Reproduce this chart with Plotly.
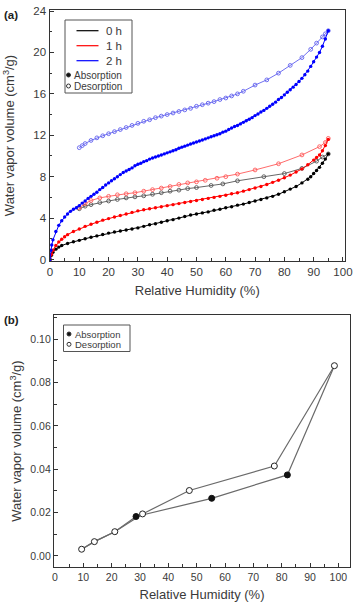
import plotly.graph_objects as go

# ---------------- Panel (a) data ----------------
abs0_x = [0, 0.5, 1, 2, 3, 4, 6, 8, 10, 12, 14, 16, 18, 20, 22, 24, 26, 28, 30, 32, 34, 36, 38, 40, 42, 44, 46, 48,
          50, 52, 54, 56, 58, 60, 62, 64, 66, 68, 70, 72, 74, 76, 78, 80, 82, 84, 86, 88, 89, 90, 91, 92, 93, 94, 95]
abs0_y = [0, 0.4, 0.7, 1.0, 1.2, 1.35, 1.55, 1.72, 1.85, 2.0, 2.15, 2.28, 2.42, 2.55, 2.65, 2.75, 2.85, 2.95, 3.05,
          3.2, 3.35, 3.45, 3.6, 3.75, 3.85, 4.0, 4.15, 4.3, 4.4, 4.5, 4.6, 4.75, 4.85, 5.0, 5.1, 5.25, 5.35, 5.5, 5.65,
          5.8, 5.95, 6.1, 6.3, 6.55, 6.8, 7.05, 7.4, 7.75, 8.0, 8.3, 8.6, 8.9, 9.3, 9.7, 10.2]

des0_x = [10, 12, 14, 17, 20, 23, 26, 29, 32, 35, 38, 41, 44, 47, 50, 55, 59, 64, 73, 80, 86, 91, 93, 95]
des0_y = [4.9, 5.15, 5.3, 5.5, 5.65, 5.8, 5.95, 6.05, 6.15, 6.3, 6.45, 6.6, 6.7, 6.85, 6.95, 7.15, 7.3, 7.6, 8.0,
          8.3, 8.8, 9.5, 9.9, 10.2]

abs1_x = [0, 0.5, 1, 2, 3, 4, 5, 6, 8, 10, 12, 14, 16, 18, 20, 22, 24, 26, 28, 30, 32, 34, 36, 38, 40, 42, 44, 46, 48,
          50, 52, 54, 56, 58, 60, 62, 64, 66, 68, 70, 72, 74, 76, 78, 80, 82, 84, 86, 88, 90, 91, 92, 93, 94, 95]
abs1_y = [0, 0.5, 0.9, 1.35, 1.7, 1.95, 2.2, 2.4, 2.7, 2.95, 3.2, 3.4, 3.6, 3.8, 3.95, 4.1, 4.25, 4.4, 4.55, 4.7,
          4.8, 4.9, 5.0, 5.1, 5.2, 5.3, 5.4, 5.5, 5.6, 5.7, 5.8, 5.9, 6.0, 6.1, 6.2, 6.35, 6.45, 6.6, 6.75, 6.9, 7.05,
          7.25, 7.45, 7.65, 7.9, 8.15, 8.45, 8.75, 9.15, 9.6, 9.85, 10.1, 10.5, 11.0, 11.6]

des1_x = [10, 12, 14, 17, 20, 23, 26, 29, 32, 35, 38, 41, 44, 47, 50, 53, 57, 60, 64, 70, 78, 86, 92, 94, 95]
des1_y = [5.0, 5.4, 5.7, 5.95, 6.1, 6.25, 6.35, 6.45, 6.6, 6.75, 6.9, 7.05, 7.25, 7.4, 7.5, 7.65, 7.85, 8.0, 8.25,
          8.65, 9.25, 10.1, 10.9, 11.3, 11.7]

abs2_x = [0, 0.3, 0.6, 1, 2, 3, 4, 5, 6, 7, 8, 9, 10, 11, 12, 13, 14, 15, 16, 17, 18, 19, 20, 21, 22, 23, 24, 25, 26,
          27, 28, 29, 30, 31, 32, 33, 34, 35, 36, 37, 38, 39, 40, 41, 42, 43, 44, 45, 46, 47, 48, 49, 50, 51, 52, 53,
          54, 55, 56, 57, 58, 59, 60, 61, 62, 63, 64, 65, 66, 67, 68, 69, 70, 71, 72, 73, 74, 75, 76, 77, 78, 79, 80,
          81, 82, 83, 84, 85, 86, 87, 88, 89, 90, 91, 92, 93, 94, 95]
abs2_y = [0, 0.9, 1.4, 1.9, 2.7, 3.3, 3.75, 4.1, 4.4, 4.65, 4.85, 5.0, 5.2, 5.45, 5.65, 5.9, 6.1, 6.3, 6.5, 6.75,
          6.95, 7.2, 7.4, 7.6, 7.8, 8.0, 8.2, 8.4, 8.55, 8.7, 8.85, 9.05, 9.2, 9.3, 9.45, 9.55, 9.7, 9.8, 9.9, 10.0,
          10.1, 10.2, 10.3, 10.4, 10.5, 10.6, 10.75, 10.85, 10.95, 11.05, 11.15, 11.25, 11.35, 11.45, 11.55, 11.65,
          11.75, 11.85, 11.95, 12.05, 12.15, 12.3, 12.4, 12.55, 12.7, 12.85, 12.95, 13.1, 13.25, 13.4, 13.55, 13.7,
          13.9, 14.05, 14.25, 14.4, 14.6, 14.8, 15.0, 15.2, 15.45, 15.65, 15.9, 16.15, 16.4, 16.65, 16.9, 17.2, 17.5,
          17.85, 18.2, 18.65, 19.1, 19.55, 20.0, 20.6, 21.3, 22.1]

des2_x = [10, 11, 12, 14, 16, 18, 20, 22, 24, 26, 28, 30, 32, 34, 36, 38, 40, 42, 44, 46, 48, 50, 52, 54, 56, 58, 60,
          62, 64, 66, 70, 74, 78, 82, 86, 89, 91, 93, 94, 95]
des2_y = [10.8, 11.0, 11.2, 11.5, 11.75, 11.95, 12.15, 12.35, 12.55, 12.75, 12.95, 13.15, 13.35, 13.5, 13.7, 13.85,
          14.0, 14.15, 14.3, 14.45, 14.6, 14.8, 14.95, 15.1, 15.25, 15.45, 15.6, 15.8, 16.0, 16.25, 16.85, 17.35,
          18.0, 18.75, 19.5, 20.3, 20.9, 21.5, 21.8, 22.1]

# ---------------- Panel (b) data ----------------
b_abs_x = [28.6, 55.3, 82.0]
b_abs_y = [0.0182, 0.0266, 0.0374]
b_des_x = [98.6, 77.4, 47.4, 30.9, 21.1, 13.9, 9.4]
b_des_y = [0.0878, 0.0415, 0.0302, 0.0194, 0.0112, 0.0066, 0.0031]
# absorption branch line: starts at the low-RH desorption points and ends at the top point
b_absline_x = [9.4, 13.9, 21.1] + b_abs_x + [98.6]
b_absline_y = [0.0031, 0.0066, 0.0112] + b_abs_y + [0.0878]

x_ticks = list(range(0, 101, 10))
ya_ticks = [0, 4, 8, 12, 16, 20, 24]
yb_ticks = [0.00, 0.02, 0.04, 0.06, 0.08, 0.10]

W, H = 355, 607
FONT = "Liberation Sans, Arial, sans-serif"
TXT = "#3a3a3a"
FRAME = "#333333"

fig = go.Figure()

series_a = [
    (abs0_x, abs0_y, des0_x, des0_y, "#000000", "#555555"),
    (abs1_x, abs1_y, des1_x, des1_y, "#ff0000", "#ff5a5a"),
    (abs2_x, abs2_y, des2_x, des2_y, "#0000ff", "#6060ee"),
]
for ax_, ay_, dx_, dy_, c, cd in series_a:
    fig.add_trace(go.Scatter(x=dx_, y=dy_, mode="lines+markers", xaxis="x", yaxis="y",
                             line=dict(color=cd, width=0.9),
                             marker=dict(symbol="circle-open", size=3.8, color=cd, line=dict(width=0.9)),
                             showlegend=False, hoverinfo="skip"))
for ax_, ay_, dx_, dy_, c, cd in series_a:
    fig.add_trace(go.Scatter(x=ax_, y=ay_, mode="lines+markers", xaxis="x", yaxis="y",
                             line=dict(color=c, width=1),
                             marker=dict(symbol="circle", size=3.4, color=c),
                             showlegend=False, hoverinfo="skip"))

# panel (b)
fig.add_trace(go.Scatter(x=b_absline_x, y=b_absline_y, mode="lines", xaxis="x2", yaxis="y2",
                         line=dict(color="#6a6a6a", width=1.2), showlegend=False, hoverinfo="skip"))
fig.add_trace(go.Scatter(x=b_des_x, y=b_des_y, mode="lines+markers", xaxis="x2", yaxis="y2",
                         line=dict(color="#6a6a6a", width=1.2),
                         marker=dict(symbol="circle", size=6, color="white", line=dict(color="#222", width=1)),
                         showlegend=False, hoverinfo="skip"))
fig.add_trace(go.Scatter(x=b_abs_x, y=b_abs_y, mode="markers", xaxis="x2", yaxis="y2",
                         marker=dict(symbol="circle", size=6, color="#111", line=dict(color="#111", width=1)),
                         showlegend=False, hoverinfo="skip"))


def px(x):
    return x / W


def py(y):
    return 1 - y / H


axis_common = dict(showline=True, mirror=True, linecolor=FRAME, linewidth=1.2, showgrid=False, zeroline=False,
                   ticks="inside", ticklen=4, tickwidth=1, tickcolor=FRAME,
                   tickfont=dict(family=FONT, size=12, color=TXT),
                   title_font=dict(family=FONT, size=13, color=TXT))

fig.update_layout(
    width=W, height=H, margin=dict(l=0, r=0, t=0, b=0),
    paper_bgcolor="white", plot_bgcolor="white", showlegend=False,
    xaxis=dict(domain=[px(49.5), px(345)], range=[-0.17, 100.7], tickvals=x_ticks, anchor="y",
               minor=dict(dtick=5, ticks="inside", ticklen=2.5, tickcolor=FRAME),
               title=dict(text="Relative Humidity (%)", standoff=8), automargin=False, **axis_common),
    yaxis=dict(domain=[py(261), py(10)], range=[-0.145, 24.1], tickvals=ya_ticks, anchor="x",
               minor=dict(dtick=2, ticks="inside", ticklen=2.5, tickcolor=FRAME),
               title=dict(text="Water vapor volume (cm<sup>3</sup>/g)", standoff=15), automargin=False,
               **axis_common),
    xaxis2=dict(domain=[px(54), px(350)], range=[-0.35, 104.1], tickvals=x_ticks, anchor="y2",
                minor=dict(dtick=5, ticks="inside", ticklen=2.5, tickcolor=FRAME),
                title=dict(text="Relative Humidity (%)", standoff=8), automargin=False, **axis_common),
    yaxis2=dict(domain=[py(567), py(315)], range=[-0.0051, 0.1112], tickvals=yb_ticks, tickformat=".2f",
                anchor="x2", minor=dict(dtick=0.01, ticks="inside", ticklen=2.5, tickcolor=FRAME),
                title=dict(text="Water vapor volume (cm<sup>3</sup>/g)", standoff=5), automargin=False,
                **axis_common),
)
fig.update_xaxes(tickfont_size=11.5)
fig.update_yaxes(tickfont_size=11.5)
fig.layout.xaxis2.tickfont.size = 10.5
fig.layout.yaxis2.tickfont.size = 10.5

shapes = []
annotations = []

# panel labels
annotations.append(dict(x=px(1.5), y=py(15), xref="paper", yref="paper", text="<b>(a)</b>", showarrow=False,
                        xanchor="left", yanchor="middle", font=dict(family=FONT, size=11.5, color="#222")))
annotations.append(dict(x=px(1.5), y=py(320), xref="paper", yref="paper", text="<b>(b)</b>", showarrow=False,
                        xanchor="left", yanchor="middle", font=dict(family=FONT, size=11.5, color="#222")))

# legend (a)
shapes.append(dict(type="rect", xref="paper", yref="paper", x0=px(65), x1=px(132), y0=py(93), y1=py(20),
                   line=dict(color="#555", width=1), fillcolor="white"))
for label, col, yy in [("0 h", "#000000", 30.7), ("1 h", "#ff0000", 45.7), ("2 h", "#0000ff", 60.7)]:
    shapes.append(dict(type="line", xref="paper", yref="paper", x0=px(76.5), x1=px(98.5), y0=py(yy), y1=py(yy),
                       line=dict(color=col, width=1.2)))
    annotations.append(dict(x=px(104), y=py(yy), xref="paper", yref="paper", text=label, showarrow=False,
                            xanchor="left", yanchor="middle", font=dict(family=FONT, size=11.5, color=TXT)))


def circ(cx, cy, r, fill, line):
    return dict(type="circle", xref="paper", yref="paper", x0=px(cx - r), x1=px(cx + r), y0=py(cy + r),
                y1=py(cy - r), fillcolor=fill, line=dict(color=line, width=1))


for label, filled, yy in [("Absorption", True, 75), ("Desorption", False, 86)]:
    shapes.append(circ(68.5, yy, 2, "#111" if filled else "white", "#333"))
    annotations.append(dict(x=px(72), y=py(yy), xref="paper", yref="paper", text=label, showarrow=False,
                            xanchor="left", yanchor="middle", font=dict(family=FONT, size=10, color=TXT)))

# legend (b)
shapes.append(dict(type="rect", xref="paper", yref="paper", x0=px(63.5), x1=px(130), y0=py(351.5), y1=py(325),
                   line=dict(color="#555", width=1), fillcolor="white"))
for label, filled, yy in [("Absorption", True, 334), ("Desorption", False, 344.3)]:
    shapes.append(circ(69, yy, 2, "#111" if filled else "white", "#333"))
    annotations.append(dict(x=px(72.5), y=py(yy), xref="paper", yref="paper", text=label, showarrow=False,
                            xanchor="left", yanchor="middle", font=dict(family=FONT, size=9.5, color=TXT)))

fig.update_layout(shapes=shapes, annotations=annotations)

fig.write_html("out.html")
